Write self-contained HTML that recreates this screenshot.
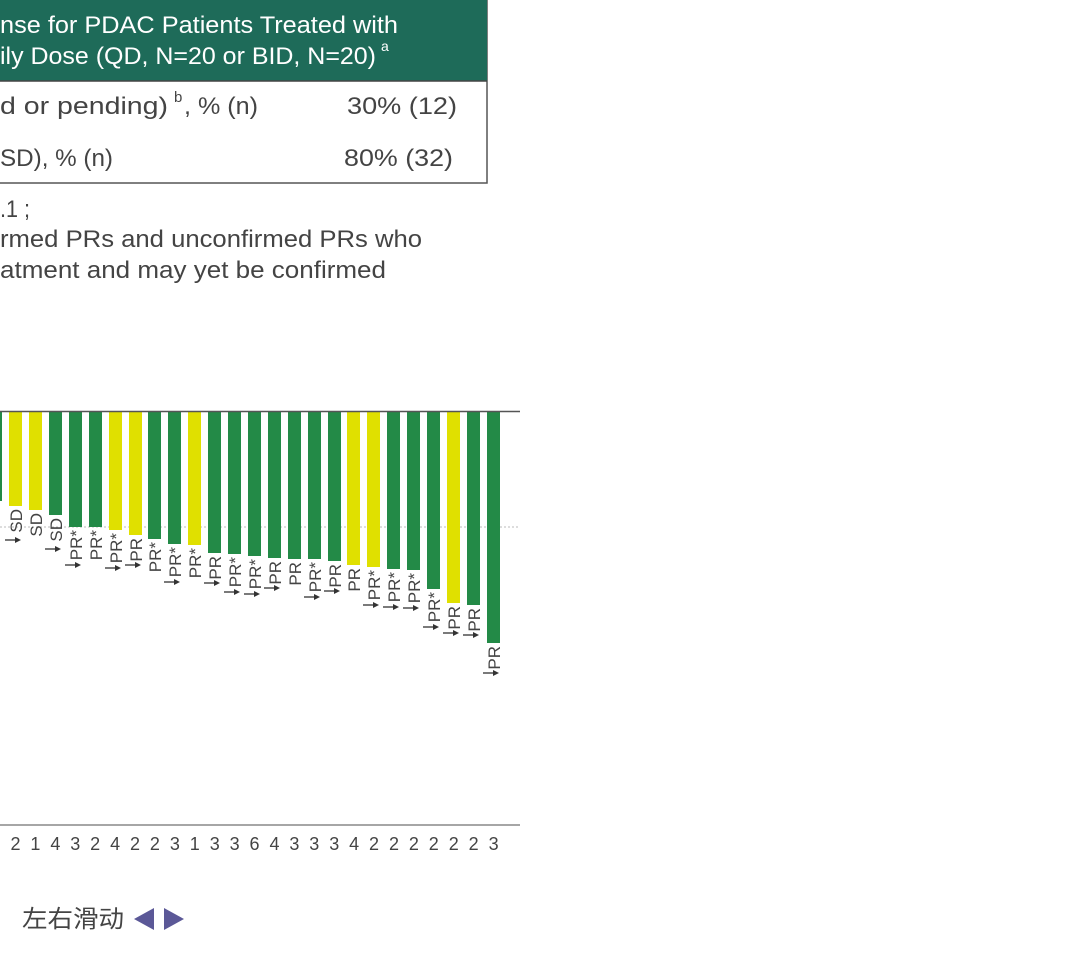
<!DOCTYPE html>
<html><head><meta charset="utf-8"><style>
html,body{margin:0;padding:0;background:#fff;width:1080px;height:964px;overflow:hidden}
svg{display:block}
text{font-family:"Liberation Sans","Noto Sans CJK SC",sans-serif}
</style></head><body>
<svg width="1080" height="964" viewBox="0 0 1080 964" xmlns="http://www.w3.org/2000/svg">
<rect x="-2" y="0" width="489" height="183" fill="#fff" stroke="#555" stroke-width="1.5"/>
<rect x="-2" y="0" width="489" height="81" fill="#1e6b59"/>
<line x1="0" y1="81" x2="487" y2="81" stroke="#444" stroke-width="1.5"/>
<g fill="#fff" font-size="24">
<text x="0" y="33" textLength="398" lengthAdjust="spacingAndGlyphs">nse for PDAC Patients Treated with</text>
<text x="0" y="64" textLength="376" lengthAdjust="spacingAndGlyphs">ily Dose (QD, N=20 or BID, N=20)</text>
<text x="381" y="51" font-size="14">a</text>
</g>
<g fill="#444" font-size="24">
<text x="0" y="114" textLength="168" lengthAdjust="spacingAndGlyphs">d or pending)</text>
<text x="174" y="102" font-size="15">b</text>
<text x="184" y="114" textLength="74" lengthAdjust="spacingAndGlyphs">, % (n)</text>
<text x="347" y="114" textLength="110" lengthAdjust="spacingAndGlyphs">30% (12)</text>
<text x="0" y="166" textLength="113" lengthAdjust="spacingAndGlyphs">SD), % (n)</text>
<text x="344" y="166" textLength="109" lengthAdjust="spacingAndGlyphs">80% (32)</text>
<text x="0" y="217" textLength="30" lengthAdjust="spacingAndGlyphs">.1 ;</text>
<text x="0" y="247" textLength="422" lengthAdjust="spacingAndGlyphs">rmed PRs and unconfirmed PRs who</text>
<text x="0" y="278" textLength="386" lengthAdjust="spacingAndGlyphs">atment and may yet be confirmed</text>
</g>
<line x1="0" y1="527" x2="520" y2="527" stroke="#bbb" stroke-width="1" stroke-dasharray="2,2"/>
<g id="bars"></g>
<line x1="0" y1="411.5" x2="520" y2="411.5" stroke="#555" stroke-width="1.5"/>
<line x1="0" y1="825" x2="520" y2="825" stroke="#888" stroke-width="1.5"/>
<g fill="#444" font-size="18" text-anchor="middle" id="nums"></g>
<text x="22" y="927" font-size="24" fill="#444" textLength="102" lengthAdjust="spacingAndGlyphs">左右滑动</text>
<polygon points="154,908 154,930 134,919" fill="#5b5897"/>
<polygon points="164,908 164,930 184,919" fill="#5b5897"/>
</svg>
<script>
var G="#238a47",Y="#e0e000";
var data=[[-11,501,G,"",0],[9,506,Y,"SD",1],[29,510,Y,"SD",0],[49,515,G,"SD",1],[69,527,G,"PR*",1],[89,527,G,"PR*",0],[109,530,Y,"PR*",1],[129,535,Y,"PR",1],[148,539,G,"PR*",0],[168,544,G,"PR*",1],[188,545,Y,"PR*",0],[208,553,G,"PR",1],[228,554,G,"PR*",1],[248,556,G,"PR*",1],[268,558,G,"PR",1],[288,559,G,"PR",0],[308,559,G,"PR*",1],[328,561,G,"PR",1],[347,565,Y,"PR",0],[367,567,Y,"PR*",1],[387,569,G,"PR*",1],[407,570,G,"PR*",1],[427,589,G,"PR*",1],[447,603,Y,"PR",1],[467,605,G,"PR",1],[487,643,G,"PR",1]];
var nums=[2,1,4,3,2,4,2,2,3,1,3,3,6,4,3,3,3,4,2,2,2,2,2,2,3];
var ns="http://www.w3.org/2000/svg",b=document.getElementById("bars"),n=document.getElementById("nums");
function el(t,a,p){var e=document.createElementNS(ns,t);for(var k in a)e.setAttribute(k,a[k]);p.appendChild(e);return e;}
data.forEach(function(d,i){
 el("rect",{x:d[0],y:412,width:13,height:d[1]-412,fill:d[2]},b);
 if(d[3]){
  var ax=d[0]+13,ay=d[1]+3;
  var t=el("text",{x:0,y:0,transform:"translate("+ax+","+ay+") rotate(-90)","text-anchor":"end","font-size":"17",fill:"#444"},b);
  t.textContent=d[3];
  if(d[4]){var len=d[3]=="SD"?27:(d[3]=="PR"?23:31);var yy=ay+len+4;
   el("line",{x1:d[0]-4,y1:yy,x2:d[0]+8,y2:yy,stroke:"#333","stroke-width":1.3},b);
   el("polygon",{points:(d[0]+12)+","+yy+" "+(d[0]+6)+","+(yy-3)+" "+(d[0]+6)+","+(yy+3),fill:"#333"},b);}
 }
});
nums.forEach(function(v,i){var t=el("text",{x:15.5+i*19.92,y:850},n);t.textContent=v;});
</script>
</body></html>
